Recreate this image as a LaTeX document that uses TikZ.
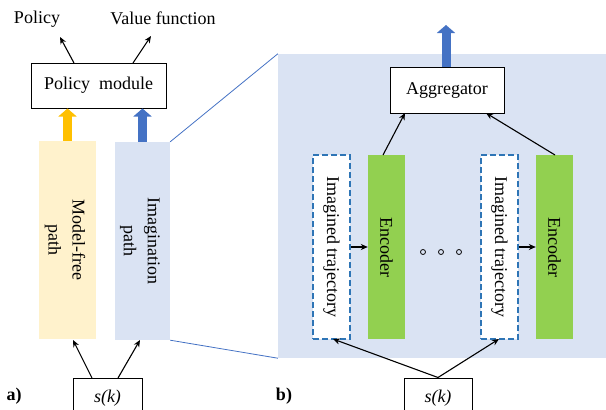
\documentclass[tikz,border=0pt]{standalone}
\usepackage{fontspec}
\setmainfont{Liberation Serif}
\usetikzlibrary{arrows.meta}
\definecolor{panelblue}{HTML}{DAE3F3}
\definecolor{mfyellow}{HTML}{FFF2CC}
\definecolor{arrorange}{HTML}{FFC000}
\definecolor{arrblue}{HTML}{4472C4}
\definecolor{encgreen}{HTML}{92D050}
\definecolor{dashblue}{HTML}{2E75B6}
\definecolor{lineblue}{HTML}{4472C4}
\begin{document}
\begin{tikzpicture}[x=1pt,y=-1pt,
  font=\fontsize{18}{24}\selectfont,
  box/.style={draw, line width=1pt, fill=white, inner sep=0pt},
  colbox/.style={draw=none, inner sep=0pt},
  trajbox/.style={draw=dashblue, dash pattern=on 6pt off 3pt, line width=1.2pt, fill=white, inner sep=0pt, minimum width=37pt, minimum height=184pt},
  encbox/.style={fill=encgreen, inner sep=0pt, minimum width=37pt, minimum height=184pt},
  vlabel/.style={rotate=-90, align=center, inner sep=0pt},
  thin arrow/.style={line width=1.1pt, -{Stealth[length=7pt,width=6pt]}},
  block arrow/.style={line width=9pt, -{Triangle[width=18pt,length=8pt]}},
  dot/.style={circle, draw, line width=0.8pt, inner sep=0pt, minimum size=5pt}
]
\useasboundingbox (0,0) rectangle (606,410);

% ---------- part a ----------
\node (pol) at (37,19) {Policy};
\node (vf) at (163,18) {Value function};
\node[box, minimum width=135pt, minimum height=45pt] (pm) at (98.5,85.5) {Policy\ \ module};
\coordinate (polend) at (60,37);
\coordinate (vfend) at (151,36);
\coordinate (pmA) at (74,63);
\coordinate (pmB) at (133,63);
\draw[thin arrow] (pmA) -- (polend);
\draw[thin arrow] (pmB) -- (vfend);

\node[colbox, fill=mfyellow, minimum width=57pt, minimum height=198pt] (mf) at (67.5,240) {};
\node[colbox, fill=panelblue, minimum width=55pt, minimum height=198pt] (im) at (142.5,241) {};
\node[vlabel] at (65,240) {Model-free\\path};
\node[vlabel] at (140,241) {Imagination\\path};

\draw[arrorange, block arrow] (mf.north) -- (mf.north |- pm.south);
\draw[arrblue, block arrow] (im.north) -- (im.north |- pm.south);

\node[box, minimum width=69pt, minimum height=40pt] (ska) at (107.5,398) {\itshape s(k)};
\coordinate (skaA) at (92,378);
\coordinate (skaB) at (118,378);
\coordinate (mfin) at (73,340);
\coordinate (imin) at (140,340);
\draw[thin arrow] (skaA) -- (mfin);
\draw[thin arrow] (skaB) -- (imin);
\node[font=\fontsize{18}{20}\selectfont\bfseries] (la) at (14,396) {a)};

% ---------- part b ----------
\node[colbox, fill=panelblue, minimum width=332pt, minimum height=304pt] (panel) at (444,206) {};
\draw[lineblue, line width=0.8pt] (im.north east) -- (panel.north west);
\draw[lineblue, line width=0.8pt] (im.south east) -- (panel.south west);

\node[box, minimum width=114pt, minimum height=46pt] (agg) at (447,90) {Aggregator};
\coordinate (out) at (446,25);
\draw[arrblue, block arrow] (agg.north -| out) -- (out);

\node[trajbox] (t1) at (331.5,247) {};
\node[encbox] (e1) at (386.5,247) {};
\node[trajbox] (t2) at (499.5,247) {};
\node[encbox] (e2) at (554.5,247) {};
\node[vlabel] at (t1) {Imagined trajectory};
\node[vlabel] at (e1) {Encoder};
\node[vlabel] at (t2) {Imagined trajectory};
\node[vlabel] at (e2) {Encoder};

\draw[thin arrow] (t1.east |- 0,247) -- (e1.west |- 0,247);
\draw[thin arrow] (t2.east |- 0,247) -- (e2.west |- 0,247);

\node[dot] (d1) at (423,252) {};
\node[dot] (d2) at (441,252) {};
\node[dot] (d3) at (459,252) {};

\coordinate (e1top) at (383,155);
\coordinate (e2top) at (555,155);
\coordinate (aggA) at (405,113);
\coordinate (aggB) at (486,113);
\draw[thin arrow] (e1top) -- (aggA);
\draw[thin arrow] (e2top) -- (aggB);

\node[box, minimum width=68pt, minimum height=40pt] (skb) at (438,398) {\itshape s(k)};
\coordinate (t1in) at (333,339);
\coordinate (t2in) at (499,339);
\draw[thin arrow] (skb.north) -- (t1in);
\draw[thin arrow] (skb.north) -- (t2in);
\node[font=\fontsize{18}{20}\selectfont\bfseries] (lb) at (284,396) {b)};
\end{tikzpicture}
\end{document}
